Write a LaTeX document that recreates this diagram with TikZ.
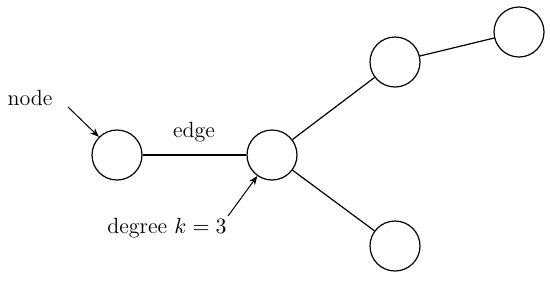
\documentclass[tikz,border=0pt]{standalone}
\usetikzlibrary{arrows.meta}
\begin{document}
\begin{tikzpicture}[x=0.5pt,y=-0.5pt,
  vert/.style={circle,draw,line width=0.6pt,minimum size=25pt,inner sep=0pt},
  conn/.style={line width=0.6pt},
  pointer/.style={line width=0.5pt,-{Stealth[length=4.5pt,width=3.5pt]}},
  lbl/.style={inner sep=0pt,font=\fontsize{11}{13}\selectfont}]
\useasboundingbox (0,0) rectangle (550,280);
\node[vert] (a) at (117,155) {};
\node[vert] (b) at (272,155) {};
\node[vert] (c) at (395,62) {};
\node[vert] (d) at (519,32) {};
\node[vert] (e) at (395,246) {};
\draw[conn] (a) -- (b);
\draw[conn] (b) -- (c);
\draw[conn] (c) -- (d);
\draw[conn] (b) -- (e);
\node[lbl] (nl) at (30,98) {node};
\node[lbl] (el) at (194,132) {edge};
\node[lbl] (dl) at (167,228) {degree $k=3$};
\coordinate (ns) at (68,107);
\coordinate (ds) at (228,216);
\draw[pointer] (ns) -- (a.135);
\draw[pointer] (ds) -- (b.-125);
\end{tikzpicture}
\end{document}
